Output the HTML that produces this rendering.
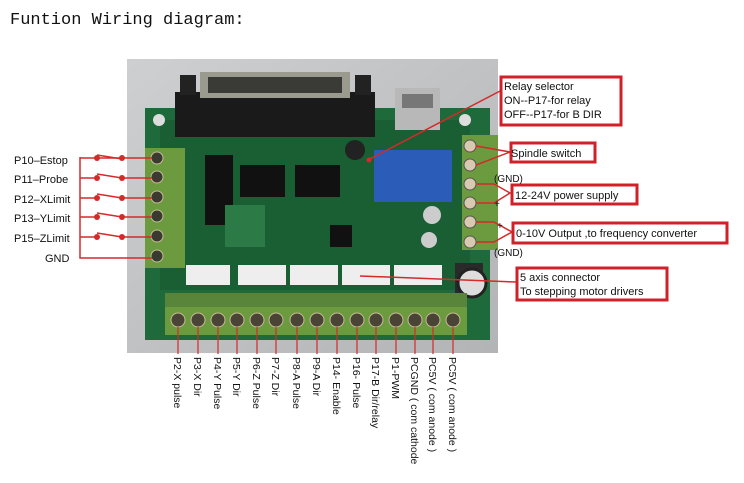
<!DOCTYPE html>
<html><head><style>
body{margin:0;background:#fff;width:744px;height:483px;overflow:hidden}
svg{display:block}
</style></head><body>
<svg width="744" height="483" viewBox="0 0 744 483" font-family="Liberation Sans, sans-serif">
<text x="10" y="24" font-family="Liberation Mono, monospace" font-size="17" fill="#111">Funtion Wiring diagram:</text>
<!-- photo bg -->
<rect x="127" y="59" width="371" height="294" fill="#c4c6c8"/>
<rect x="127" y="59" width="371" height="294" fill="url(#g)" opacity="0.4"/>
<defs><linearGradient id="g" x1="0" y1="0" x2="1" y2="1"><stop offset="0" stop-color="#ddd"/><stop offset="1" stop-color="#999"/></linearGradient></defs>
<!-- board -->
<rect x="145" y="108" width="345" height="232" fill="#1f6a3a"/>
<rect x="160" y="120" width="310" height="170" fill="#1a5e33"/>
<circle cx="159" cy="120" r="6" fill="#ddd"/><circle cx="465" cy="120" r="6" fill="#ddd"/>
<!-- DB25 -->
<rect x="175" y="92" width="200" height="45" fill="#1a1a1a"/>
<rect x="200" y="72" width="150" height="26" fill="#9a9a8e"/>
<rect x="208" y="77" width="134" height="16" fill="#3a3a36"/>
<rect x="180" y="75" width="16" height="20" fill="#222"/><rect x="355" y="75" width="16" height="20" fill="#222"/>
<!-- USB -->
<rect x="395" y="88" width="45" height="42" fill="#b8b8b8"/><rect x="402" y="94" width="31" height="14" fill="#777"/>
<!-- relay -->
<rect x="374" y="150" width="78" height="52" fill="#2a5cb8"/>
<!-- chips -->
<rect x="240" y="165" width="45" height="32" fill="#111"/><rect x="295" y="165" width="45" height="32" fill="#111"/>
<rect x="205" y="155" width="28" height="70" fill="#111"/>
<rect x="330" y="225" width="22" height="22" fill="#111"/>
<circle cx="355" cy="150" r="10" fill="#222"/><circle cx="432" cy="215" r="9" fill="#ccc"/><circle cx="429" cy="240" r="8" fill="#ccc"/>
<rect x="225" y="205" width="40" height="42" fill="#2c7a46"/>
<!-- white headers -->
<rect x="186" y="265" width="44" height="20" fill="#eee"/><rect x="238" y="265" width="48" height="20" fill="#eee"/><rect x="290" y="265" width="48" height="20" fill="#eee"/><rect x="342" y="265" width="48" height="20" fill="#eee"/><rect x="394" y="265" width="48" height="20" fill="#eee"/>
<rect x="455" y="263" width="28" height="30" fill="#2a2a2a"/><circle cx="472" cy="283" r="14" fill="#ddd" stroke="#222" stroke-width="3"/>
<!-- left block -->
<rect x="145" y="148" width="40" height="120" fill="#6c9a3e"/>
<g fill="#3a3a30" stroke="#c9b99a" stroke-width="1">
<circle cx="157" cy="158" r="6"/><circle cx="157" cy="177" r="6"/><circle cx="157" cy="197" r="6"/><circle cx="157" cy="216" r="6"/><circle cx="157" cy="236" r="6"/><circle cx="157" cy="256" r="6"/></g>
<!-- right block -->
<rect x="462" y="135" width="36" height="115" fill="#6c9a3e"/>
<g fill="#d8c9b0" stroke="#555" stroke-width="1">
<circle cx="470" cy="146" r="6"/><circle cx="470" cy="165" r="6"/><circle cx="470" cy="184" r="6"/><circle cx="470" cy="203" r="6"/><circle cx="470" cy="222" r="6"/><circle cx="470" cy="242" r="6"/></g>
<!-- bottom block -->
<rect x="165" y="293" width="302" height="42" fill="#6c9a3e"/>
<rect x="165" y="293" width="302" height="14" fill="#58853a"/>
<g fill="#4a4436" stroke="#c9b99a" stroke-width="1">
<circle cx="178" cy="320" r="7"/><circle cx="198" cy="320" r="7"/><circle cx="218" cy="320" r="7"/><circle cx="237" cy="320" r="7"/><circle cx="257" cy="320" r="7"/><circle cx="276" cy="320" r="7"/><circle cx="297" cy="320" r="7"/><circle cx="317" cy="320" r="7"/><circle cx="337" cy="320" r="7"/><circle cx="357" cy="320" r="7"/><circle cx="376" cy="320" r="7"/><circle cx="396" cy="320" r="7"/><circle cx="415" cy="320" r="7"/><circle cx="433" cy="320" r="7"/><circle cx="453" cy="320" r="7"/></g>
<!-- left wiring -->
<g stroke="#d42a2a" stroke-width="1.5" fill="none">
<path d="M80 157V258H152"/>
<path d="M80 158H97L122 158H152M80 178H97M122 178H152M80 198H97M122 198H152M80 217H97M122 217H152M80 237H97M122 237H152"/>
<path d="M97 155L122 159M97 174L122 178M97 194L122 198M97 213L122 217M97 233L122 237"/>
</g>
<g fill="#d42a2a"><circle cx="97" cy="158" r="3"/><circle cx="122" cy="158" r="3"/><circle cx="97" cy="178" r="3"/><circle cx="122" cy="178" r="3"/><circle cx="97" cy="198" r="3"/><circle cx="122" cy="198" r="3"/><circle cx="97" cy="217" r="3"/><circle cx="122" cy="217" r="3"/><circle cx="97" cy="237" r="3"/><circle cx="122" cy="237" r="3"/></g>
<g font-size="11" fill="#111">
<text x="14" y="164">P10–Estop</text><text x="14" y="183">P11–Probe</text><text x="14" y="203">P12–XLimit</text><text x="14" y="222">P13–YLimit</text><text x="14" y="242">P15–ZLimit</text><text x="45" y="262">GND</text></g>
<!-- bottom lines -->
<g stroke="#d42a2a" stroke-width="1.2">
<path d="M178 327V354M198 327V354M218 327V354M237 327V354M257 327V354M276 327V354M297 327V354M317 327V354M337 327V354M357 327V354M376 327V354M396 327V354M415 327V354M433 327V354M453 327V354"/></g>
<g font-size="10.5" fill="#111">
<text transform="translate(174,357) rotate(90)">P2-X pulse</text>
<text transform="translate(194,357) rotate(90)">P3-X Dir</text>
<text transform="translate(214,357) rotate(90)">P4-Y Pulse</text>
<text transform="translate(233,357) rotate(90)">P5-Y Dir</text>
<text transform="translate(253,357) rotate(90)">P6-Z Pulse</text>
<text transform="translate(272,357) rotate(90)">P7-Z Dir</text>
<text transform="translate(293,357) rotate(90)">P8-A Pulse</text>
<text transform="translate(313,357) rotate(90)">P9-A Dir</text>
<text transform="translate(333,357) rotate(90)">P14- Enable</text>
<text transform="translate(353,357) rotate(90)">P16- Pulse</text>
<text transform="translate(372,357) rotate(90)">P17-B Dir/relay</text>
<text transform="translate(392,357) rotate(90)">P1-PWM</text>
<text transform="translate(411,357) rotate(90)">PCGND ( com cathode</text>
<text transform="translate(429,357) rotate(90)">PC5V ( com anode )</text>
<text transform="translate(449,357) rotate(90)">PC5V ( com anode )</text>
</g>
<!-- right annotations -->
<g stroke="#d42a2a" stroke-width="1.5" fill="none">
<path d="M502 90L368 160"/>
<path d="M360 276L516 282"/>
<path d="M476 146L510 152M476 165L510 152"/>
<path d="M476 184H494L510 193L494 203H476"/>
<path d="M476 222H494L512 232L494 242H476"/>
</g>
<circle cx="369" cy="160" r="2.5" fill="#d42a2a"/>
<g fill="#fff" stroke="#d0202a" stroke-width="3">
<rect x="501" y="77" width="120" height="48"/>
<rect x="511" y="143" width="84" height="19"/>
<rect x="512" y="185" width="125" height="19"/>
<rect x="513" y="223" width="214" height="20"/>
<rect x="517" y="268" width="150" height="32"/>
</g>
<g font-size="11" fill="#111">
<text x="504" y="90">Relay selector</text><text x="504" y="104">ON--P17-for relay</text><text x="504" y="118">OFF--P17-for B DIR</text>
<text x="511" y="157">Spindle switch</text>
<text x="515" y="199">12-24V power supply</text>
<text x="516" y="237">0-10V Output ,to frequency converter</text>
<text x="520" y="281">5 axis connector</text><text x="520" y="295">To stepping motor drivers</text>
<text x="494" y="182" font-size="10">(GND)</text>
<text x="494" y="207" font-size="10">+</text>
<text x="497" y="229" font-size="10">+</text>
<text x="494" y="256" font-size="10">(GND)</text>
</g>
</svg>
</body></html>
